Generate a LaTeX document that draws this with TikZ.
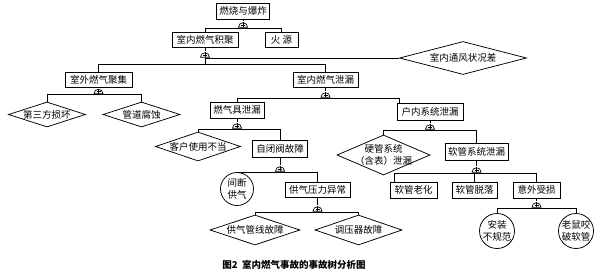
\documentclass[tikz,border=0pt]{standalone}
\usepackage{fontspec}
\setmainfont{Noto Sans CJK SC}
\usetikzlibrary{shapes.geometric}
\begin{document}
\begin{tikzpicture}[x=1pt,y=-1pt,line width=0.75pt,
  txt/.style={font=\fontsize{9.5}{11.5}\selectfont},
  box/.style={draw,rectangle,inner sep=0,txt},
  dia/.style={draw,diamond,inner sep=0},
  circ/.style={draw,circle,inner sep=0},
  lab/.style={inner sep=0,align=center,txt},
  gate/.style={inner sep=0,minimum width=11pt,minimum height=6pt,anchor=south,
    path picture={
      \draw[fill=white,line width=0.7pt]
        ([shift={(-4.5pt,0.4pt)}]path picture bounding box.south)
        arc[start angle=180,end angle=0,radius=4.5pt] -- cycle;
      \draw[line width=0.7pt]
        ([shift={(0pt,0.4pt)}]path picture bounding box.south) -- ++(0pt,5pt);
      \draw[line width=0.7pt]
        ([shift={(-2pt,2.6pt)}]path picture bounding box.south) -- ++(4pt,0pt);
    }}
]
\useasboundingbox (0,0) rectangle (600,278);

% level 0-1
\node[box,minimum width=53pt,minimum height=16pt] (a) at (243,11) {燃烧与爆炸};
\node[gate] (g1) at (243,28) {};
\node[box,minimum width=66pt,minimum height=15pt] (b) at (205,39.5) {室内燃气积聚};
\node[box,minimum width=33pt,minimum height=15pt] (c) at (281.5,39.5) {火 源};
\node[gate] (g2) at (205,58) {};
\node[dia,minimum width=127pt,minimum height=33pt] (d1) at (463,58) {};
\node[lab] (d1t) at (d1) {室内通风状况差};

% level 2
\node[box,minimum width=67pt,minimum height=15pt] (e) at (98.5,79.5) {室外燃气聚集};
\node[box,minimum width=65pt,minimum height=15pt] (f) at (325.5,79.5) {室内燃气泄漏};
\node[gate] (g3) at (98.5,94.5) {};
\node[gate] (g4) at (325.5,98) {};

\node[dia,minimum width=77pt,minimum height=25pt] (gd) at (47,114.5) {};
\node[lab] (gdt) at (gd) {第三方损坏};
\node[dia,minimum width=77pt,minimum height=25pt] (hd) at (141.5,114.5) {};
\node[lab] (hdt) at (hd) {管道腐蚀};

% level 3
\node[box,minimum width=54pt,minimum height=16pt] (i) at (237,110) {燃气具泄漏};
\node[box,minimum width=66pt,minimum height=17pt] (j) at (430,111.5) {户内系统泄漏};
\node[gate] (g5) at (237,129) {};
\node[gate] (g8) at (430,130) {};

\node[dia,minimum width=85pt,minimum height=29pt] (kd) at (198,146.5) {};
\node[lab] (kdt) at (kd) {客户使用不当};
\node[box,minimum width=55pt,minimum height=17pt] (l) at (280,148.5) {自闭阀故障};
\node[gate] (g6) at (280,172) {};

\node[circ,minimum size=33pt] (m) at (237,189) {};
\node[lab] (mt) at (m) {间断\\供气};
\node[box,minimum width=65pt,minimum height=15pt] (n) at (317.5,189.5) {供气压力异常};
\node[gate] (g7) at (317.5,212) {};
\node[dia,minimum width=90pt,minimum height=30pt] (od) at (255,230) {};
\node[lab] (odt) at (od) {供气管线故障};
\node[dia,minimum width=87pt,minimum height=30pt] (pd) at (358.5,230) {};
\node[lab] (pdt) at (pd) {调压器故障};

\node[dia,minimum width=93pt,minimum height=40pt] (qd) at (383.5,155) {};
\node[lab] (qdt) at (qd) {硬管系统\\（含表）泄漏};
\node[box,minimum width=63pt,minimum height=17pt] (r) at (476.5,151.5) {软管系统泄漏};
\node[gate] (g9) at (476.5,173) {};
\node[box,minimum width=47pt,minimum height=16pt] (s) at (413.5,190) {软管老化};
\node[box,minimum width=45pt,minimum height=16pt] (t) at (474.5,190) {软管脱落};
\node[box,minimum width=47pt,minimum height=16pt] (u) at (536.5,190) {意外受损};
\node[gate] (g10) at (536.5,208) {};
\node[circ,minimum size=35pt] (v) at (497,231) {};
\node[lab] (vt) at (v) {安装\\不规范};
\node[circ,minimum size=35pt] (w) at (576,231) {};
\node[lab] (wt) at (w) {老鼠咬\\破软管};

\node[inner sep=0,font=\fontsize{9.5}{11}\selectfont\bfseries] (cap) at (294,265) {图2\ \ 室内燃气事故的事故树分析图};

% connectors
\draw (a.south) -- (g1.north);
\draw (b.north |- g1.south) -- (c.north |- g1.south);
\draw (b.north |- g1.south) -- (b.north);
\draw (c.north |- g1.south) -- (c.north);

\draw (b.south) -- (g2.north);
\draw (g2.south) -- (d1.west);
\coordinate (y3) at (0,64);
\draw (g2.south) -- (g2.south |- y3);
\draw (e.north |- y3) -- (f.north |- y3);
\draw (e.north |- y3) -- (e.north);
\draw (f.north |- y3) -- (f.north);

\draw (e.south) -- (g3.north);
\draw (gd.north |- g3.south) -- (hd.north |- g3.south);
\draw (gd.north |- g3.south) -- (gd.north);
\draw (hd.north |- g3.south) -- (hd.north);

\draw (f.south) -- (g4.north);
\coordinate (jd) at ([xshift=3pt]j.north west);
\draw (i.north |- g4.south) -- (jd |- g4.south);
\draw (i.north |- g4.south) -- (i.north);
\draw (jd |- g4.south) -- (jd);

\draw (i.south) -- (g5.north);
\draw (kd.north |- g5.south) -- (l.north |- g5.south);
\draw (kd.north |- g5.south) -- (kd.north);
\draw (l.north |- g5.south) -- (l.north);

\draw (l.south) -- (g6.north);
\draw (m.north |- g6.south) -- (n.north |- g6.south);
\draw (n.north |- g6.south) -- (n.north);

\draw (n.south) -- (g7.north);
\draw (od.north |- g7.south) -- (pd.north |- g7.south);
\draw (od.north |- g7.south) -- (od.north);
\draw (pd.north |- g7.south) -- (pd.north);

\draw (j.south) -- (g8.north);
\draw (qd.north |- g8.south) -- (r.north |- g8.south);
\draw (qd.north |- g8.south) -- (qd.north);
\draw (r.north |- g8.south) -- (r.north);

\draw (r.south) -- (g9.north);
\coordinate (sd) at ([xshift=5pt]s.north west);
\draw (sd |- g9.south) -- (u.north |- g9.south);
\draw (sd |- g9.south) -- (sd);
\draw (t.north |- g9.south) -- (t.north);
\draw (u.north |- g9.south) -- (u.north);

\draw (u.south) -- (g10.north);
\draw (v.north |- g10.south) -- (w.north |- g10.south);
\draw (v.north |- g10.south) -- (v.north);
\draw (w.north |- g10.south) -- (w.north);
\end{tikzpicture}
\end{document}
